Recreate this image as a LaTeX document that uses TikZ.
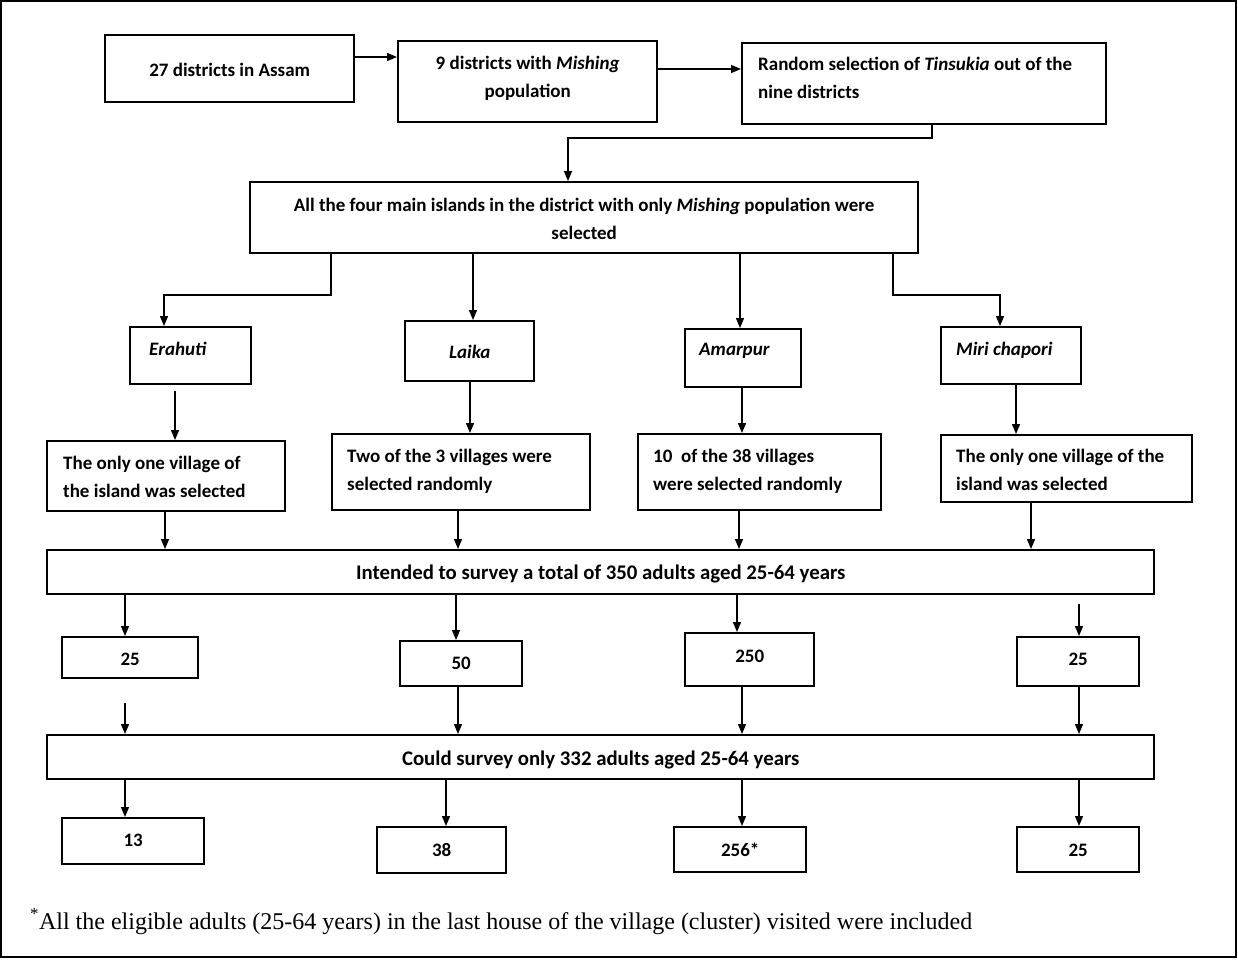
\documentclass[tikz,border=0pt]{standalone}
\usepackage{fontspec}
\setmainfont{Carlito}
\newfontfamily\fnfont{Liberation Serif}
\usetikzlibrary{arrows.meta}
\tikzset{
  box/.style={draw, line width=2.4pt, inner sep=0pt, font=\fontsize{19}{28}\selectfont\bfseries},
  arr/.style={-{Triangle[length=10pt,width=8pt]}, line width=1.3pt},
}
\newcommand\bigtxt{\fontsize{20.8}{28}\selectfont}
% #1 name, #2 L, #3 T, #4 R, #5 B, #6 baseline, #7 align (l/c), #8 pad, #9 text
\newcommand\bx[9]{%
  \pgfmathsetmacro\bxw{#4-#2}%
  \pgfmathsetmacro\bxa{#6-#3}%
  \pgfmathsetmacro\bxd{#5-#6}%
  \node[box, anchor=north west, text height=\bxa pt, text depth=\bxd pt] (#1) at (#2,#3)
    {\makebox[\bxw pt][#7]{\hspace*{#8pt}\begin{tabular}[t]{@{}#7@{}}#9\end{tabular}\hspace*{#8pt}}};}
\begin{document}
\begin{tikzpicture}[x=1pt,y=-1pt]
\useasboundingbox (0,0) rectangle (1238,959);
\draw[line width=1.5pt] (1,1) rectangle (1236,957);
% top row
\bx{b1}{104}{34}{353}{101}{75}{c}{0}{27 districts in Assam}
\bx{b2}{397}{40}{656}{121}{68}{c}{0}{9 districts with \textit{Mishing}\\population}
\bx{b3}{741}{42}{1105}{123}{69}{l}{16}{Random selection of \textit{Tinsukia} out of the\\nine districts}
\bx{b4}{249}{181}{917}{252}{210}{c}{0}{All the four main islands in the district with only \textit{Mishing} population were\\selected}
% islands
\bx{is1}{129}{326}{250}{383}{354}{l}{19}{\textit{Erahuti}}
\bx{is2}{404}{320}{533}{380}{357}{c}{0}{\textit{Laika}}
\bx{is3}{684}{328}{800}{386}{354}{l}{14}{\textit{Amarpur}}
\bx{is4}{940}{326}{1080}{383}{354}{l}{15}{\textit{Miri chapori}}
% villages
\bx{v1}{46}{440}{284}{510}{468}{l}{16}{The only one village of\\the island was selected}
\bx{v2}{331}{433}{589}{509}{461}{l}{15}{Two of the 3 villages were\\selected randomly}
\bx{v3}{637}{433}{880}{509}{461}{l}{15}{10\ \ of the 38 villages\\were selected randomly}
\bx{v4}{940}{434}{1191}{501}{461}{l}{15}{The only one village of the\\island was selected}
% intended
\bx{int}{46}{549}{1153}{593}{578}{c}{0}{\bigtxt Intended to survey a total of 350 adults aged 25-64 years}
\bx{n1}{61}{636}{197}{677}{664}{c}{0}{25}
\bx{n2}{399}{640}{521}{685}{668}{c}{0}{50}
\bx{n3}{684}{632}{813}{685}{661}{c}{0}{250}
\bx{n4}{1016}{636}{1138}{685}{664}{c}{0}{25}
% could
\bx{cs}{46}{734}{1153}{778}{764}{c}{0}{\bigtxt Could survey only 332 adults aged 25-64 years}
\bx{f1}{61}{817}{203}{863}{845}{c}{0}{13}
\bx{f2}{376}{826}{505}{872}{855}{c}{0}{38}
\bx{f3}{673}{826}{805}{871}{855}{c}{0}{256*}
\bx{f4}{1016}{826}{1138}{871}{855}{c}{0}{25}
% footnote
\node[anchor=base west, inner sep=0pt, font=\fnfont\fontsize{24}{26}\selectfont] (fn) at (30,929)
  {\textsuperscript{*}All the eligible adults (25-64 years) in the last house of the village (cluster) visited were included};
% coordinates
\coordinate (k1) at (932,138);
\coordinate (k2) at (568,138);
\coordinate (e1) at (331,295);
\coordinate (e2) at (164,295);
\coordinate (m1) at (893,295);
\coordinate (m2) at (1000,295);
\coordinate (s1) at (125,703);
% connectors top
\draw[arr] (b1.east |- 0,57) -- (b2.west |- 0,57);
\draw[arr] (b2.east |- 0,69) -- (b3.west |- 0,69);
\draw[arr] (b3.south -| k1) -- (k1) -- (k2) -- (b4.north -| k2);
\draw[arr] (b4.south -| e1) -- (e1) -- (e2) -- (is1.north -| e2);
\draw[arr] (b4.south -| 473,0) -- (is2.north -| 473,0);
\draw[arr] (b4.south -| 740,0) -- (is3.north -| 740,0);
\draw[arr] (b4.south -| m1) -- (m1) -- (m2) -- (is4.north -| m2);
% islands to villages
\draw[arr, shorten <=6pt] (is1.south -| 175,0) -- (v1.north -| 175,0);
\draw[arr] (is2.south -| 470,0) -- (v2.north -| 470,0);
\draw[arr] (is3.south -| 742,0) -- (v3.north -| 742,0);
\draw[arr] (is4.south -| 1016,0) -- (v4.north -| 1016,0);
% villages to intended
\draw[arr] (v1.south -| 165,0) -- (int.north -| 165,0);
\draw[arr] (v2.south -| 458,0) -- (int.north -| 458,0);
\draw[arr] (v3.south -| 739,0) -- (int.north -| 739,0);
\draw[arr] (v4.south -| 1031,0) -- (int.north -| 1031,0);
% intended to numbers
\draw[arr] (int.south -| 125,0) -- (n1.north -| 125,0);
\draw[arr] (int.south -| 456,0) -- (n2.north -| 456,0);
\draw[arr] (int.south -| 737,0) -- (n3.north -| 737,0);
\draw[arr, shorten <=9pt] (int.south -| 1079,0) -- (n4.north -| 1079,0);
% numbers to could
\draw[arr] (s1) -- (cs.north -| s1);
\draw[arr] (n2.south -| 458,0) -- (cs.north -| 458,0);
\draw[arr] (n3.south -| 742,0) -- (cs.north -| 742,0);
\draw[arr] (n4.south -| 1079,0) -- (cs.north -| 1079,0);
% could to final
\draw[arr] (cs.south -| 125,0) -- (f1.north -| 125,0);
\draw[arr] (cs.south -| 446,0) -- (f2.north -| 446,0);
\draw[arr] (cs.south -| 742,0) -- (f3.north -| 742,0);
\draw[arr] (cs.south -| 1079,0) -- (f4.north -| 1079,0);
\end{tikzpicture}
\end{document}
